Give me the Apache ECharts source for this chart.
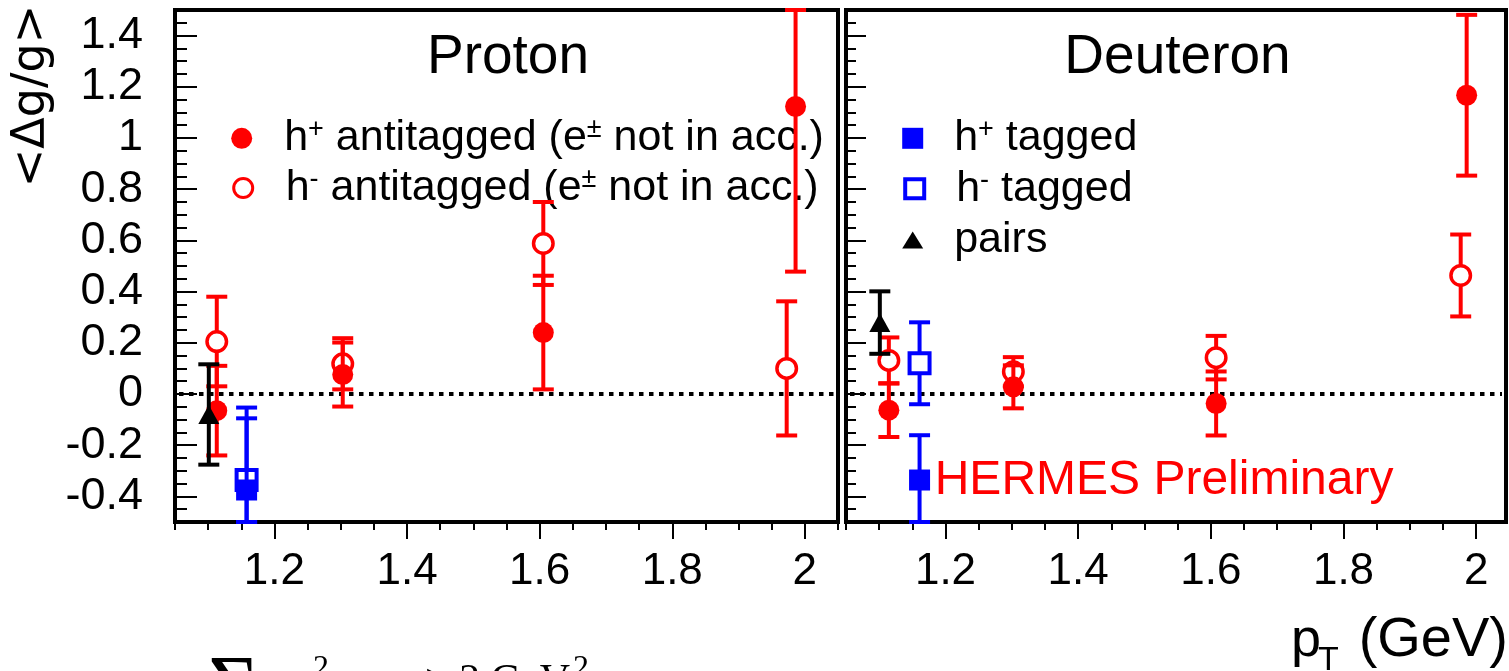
<!DOCTYPE html>
<html>
<head>
<meta charset="utf-8">
<script src="https://cdn.jsdelivr.net/npm/echarts@6/dist/echarts.min.js"></script>
<style>
html, body { margin: 0; padding: 0; background: #fff; }
#chart { width: 1509px; height: 671px; }
</style>
</head>
<body>
<div id="chart"></div>
<script>
// ---- axis ranges and tick labels ----
const xRangeP = [1.05, 2.05];
const xRangeD = [1.05, 2.045];
const yRange = [-0.5, 1.5];
const xTickLabels = [1.2, 1.4, 1.6, 1.8, 2];
const yTickLabels = [-0.4, -0.2, 0, 0.2, 0.4, 0.6, 0.8, 1, 1.2, 1.4];

// ---- Proton: <Δg/g> vs p_T ----
const pHPlusAntiX = [1.113, 1.303, 1.6055, 1.986];
const pHPlusAntiY = [-0.065, 0.076, 0.240, 1.123];
const pHPlusAntiErr = [0.175, 0.125, 0.222, 0.645];

const pHMinusAntiX = [1.113, 1.303, 1.6055, 1.9726];
const pHMinusAntiY = [0.205, 0.118, 0.588, 0.100];
const pHMinusAntiErr = [0.175, 0.100, 0.162, 0.262];

const pHPlusTagX = [1.158];
const pHPlusTagY = [-0.375];
const pHPlusTagErr = [0.280];

const pHMinusTagX = [1.158];
const pHMinusTagY = [-0.336];
const pHMinusTagErr = [0.283];

const pPairsX = [1.101];
const pPairsY = [-0.080];
const pPairsErr = [0.196];

// ---- Deuteron: <Δg/g> vs p_T ----
const dHPlusAntiX = [1.1146, 1.3023, 1.608, 1.9857];
const dHPlusAntiY = [-0.063, 0.028, -0.037, 1.167];
const dHPlusAntiErr = [0.105, 0.084, 0.125, 0.314];

const dHMinusAntiX = [1.1146, 1.3023, 1.608, 1.9767];
const dHMinusAntiY = [0.131, 0.087, 0.142, 0.463];
const dHMinusAntiErr = [0.090, 0.057, 0.085, 0.160];

const dHPlusTagX = [1.1609];
const dHPlusTagY = [-0.336];
const dHPlusTagErr = [0.175];

const dHMinusTagX = [1.1609];
const dHMinusTagY = [0.120];
const dHMinusTagErr = [0.160];

const dPairsX = [1.101];
const dPairsY = [0.279];
const dPairsErr = [0.122];

// ---- helpers ----
const RED = '#ff0000', BLUE = '#0000ff', BLACK = '#000000';
const SANS = 'Liberation Sans';
const fmt = v => String(parseFloat(Number(v).toFixed(2)));

function stepValues(lo, hi, step) {
  const out = [];
  for (let k = 0; lo + k * step <= hi + 1e-9; k++) out.push(Math.round((lo + k * step) * 1000) / 1000);
  return out;
}

function xAxesFor(grid, range, withLabels) {
  const minor = stepValues(1.05, range[1], 0.05);
  return [
    {
      type: 'value', gridIndex: grid, min: range[0], max: range[1], position: 'bottom',
      axisLine: { show: false, onZero: false }, splitLine: { show: false },
      axisTick: { show: true, inside: false, length: 17, customValues: xTickLabels,
                  lineStyle: { color: BLACK, width: 2 } },
      axisLabel: { show: withLabels, customValues: xTickLabels, margin: 28, fontSize: 44,
                   fontFamily: SANS, color: BLACK, formatter: fmt }
    },
    {
      type: 'value', gridIndex: grid, min: range[0], max: range[1], position: 'bottom',
      axisLine: { show: false, onZero: false }, splitLine: { show: false },
      axisTick: { show: true, inside: false, length: 8, customValues: minor,
                  lineStyle: { color: BLACK, width: 2 } },
      axisLabel: { show: false }
    }
  ];
}

function yAxesFor(grid, withLabels, majorLen, minorLen) {
  const minor = stepValues(yRange[0], yRange[1], 0.05);
  return [
    {
      type: 'value', gridIndex: grid, min: yRange[0], max: yRange[1], position: 'left',
      axisLine: { show: false, onZero: false }, splitLine: { show: false },
      axisTick: { show: true, inside: true, length: majorLen, customValues: yTickLabels,
                  lineStyle: { color: BLACK, width: 2 } },
      axisLabel: { show: withLabels, customValues: yTickLabels, margin: 32, fontSize: 45,
                   fontFamily: SANS, color: BLACK, formatter: fmt }
    },
    {
      type: 'value', gridIndex: grid, min: yRange[0], max: yRange[1], position: 'left',
      axisLine: { show: false, onZero: false }, splitLine: { show: false },
      axisTick: { show: true, inside: true, length: minorLen, customValues: minor,
                  lineStyle: { color: BLACK, width: 2 } },
      axisLabel: { show: false }
    }
  ];
}

// vertical error bars with end caps, clipped to the y range
function errorBars(name, grid, xs, ys, errs, color, z) {
  return {
    type: 'custom', name: name + ' errors', xAxisIndex: grid * 2, yAxisIndex: grid * 2,
    z: z, silent: true, clip: false,
    encode: { x: 0, y: 1 },
    data: xs.map((x, i) => [x, ys[i], errs[i]]),
    renderItem(params, api) {
      const x = api.value(0), y = api.value(1), e = api.value(2);
      const hi = Math.min(y + e, yRange[1]);
      const lo = Math.max(y - e, yRange[0]);
      const top = api.coord([x, hi]);
      const bot = api.coord([x, lo]);
      const w = 10.5;
      const st = { stroke: color, lineWidth: 4 };
      return {
        type: 'group',
        children: [
          { type: 'line', shape: { x1: top[0], y1: top[1], x2: bot[0], y2: bot[1] }, style: st },
          { type: 'line', shape: { x1: top[0] - w, y1: top[1], x2: top[0] + w, y2: top[1] }, style: st },
          { type: 'line', shape: { x1: bot[0] - w, y1: bot[1], x2: bot[0] + w, y2: bot[1] }, style: st }
        ]
      };
    }
  };
}

function markers(name, grid, xs, ys, symbol, size, itemStyle, z) {
  return {
    type: 'scatter', name: name, xAxisIndex: grid * 2, yAxisIndex: grid * 2, z: z,
    symbol: symbol, symbolSize: size, itemStyle: itemStyle, silent: true, clip: false,
    emphasis: { disabled: true },
    data: xs.map((x, i) => [x, ys[i]])
  };
}

// dotted zero reference line across a panel
function zeroLine(grid) {
  return {
    type: 'custom', name: 'zero', xAxisIndex: grid * 2, yAxisIndex: grid * 2, z: 2, silent: true,
    encode: { x: 0, y: 1 },
    data: [[1.5, 0]],
    renderItem(params, api) {
      const cs = params.coordSys;
      const y = api.coord([api.value(0), api.value(1)])[1];
      return { type: 'line', shape: { x1: cs.x + 4, y1: y, x2: cs.x + cs.width - 4, y2: y },
               style: { stroke: BLACK, lineWidth: 4, lineDash: [4.5, 5.5] } };
    }
  };
}

const styles = {
  openCircle: { color: '#ffffff', borderColor: RED, borderWidth: 3.5, opacity: 1 },
  fullCircle: { color: RED, opacity: 1 },
  openSquare: { color: '#ffffff', borderColor: BLUE, borderWidth: 4, opacity: 1 },
  fullSquare: { color: BLUE, opacity: 1 },
  triangle: { color: BLACK, opacity: 1 }
};

function panelSeries(grid, d) {
  return [
    zeroLine(grid),
    errorBars('h- antitagged', grid, d.hmX, d.hmY, d.hmE, RED, 3),
    markers('h- antitagged', grid, d.hmX, d.hmY, 'circle', 19.5, styles.openCircle, 4),
    errorBars('h+ antitagged', grid, d.hpX, d.hpY, d.hpE, RED, 5),
    markers('h+ antitagged', grid, d.hpX, d.hpY, 'circle', 21, styles.fullCircle, 6),
    errorBars('h- tagged', grid, d.tmX, d.tmY, d.tmE, BLUE, 7),
    markers('h- tagged', grid, d.tmX, d.tmY, 'rect', 20, styles.openSquare, 8),
    errorBars('h+ tagged', grid, d.tpX, d.tpY, d.tpE, BLUE, 9),
    markers('h+ tagged', grid, d.tpX, d.tpY, 'rect', 21, styles.fullSquare, 10),
    errorBars('pairs', grid, d.prX, d.prY, d.prE, BLACK, 11),
    markers('pairs', grid, d.prX, d.prY, 'triangle', [21, 19], styles.triangle, 12)
  ];
}

const proton = {
  hpX: pHPlusAntiX, hpY: pHPlusAntiY, hpE: pHPlusAntiErr,
  hmX: pHMinusAntiX, hmY: pHMinusAntiY, hmE: pHMinusAntiErr,
  tpX: pHPlusTagX, tpY: pHPlusTagY, tpE: pHPlusTagErr,
  tmX: pHMinusTagX, tmY: pHMinusTagY, tmE: pHMinusTagErr,
  prX: pPairsX, prY: pPairsY, prE: pPairsErr
};
const deuteron = {
  hpX: dHPlusAntiX, hpY: dHPlusAntiY, hpE: dHPlusAntiErr,
  hmX: dHMinusAntiX, hmY: dHMinusAntiY, hmE: dHMinusAntiErr,
  tpX: dHPlusTagX, tpY: dHPlusTagY, tpE: dHPlusTagErr,
  tmX: dHMinusTagX, tmY: dHMinusTagY, tmE: dHMinusTagErr,
  prX: dPairsX, prY: dPairsY, prE: dPairsErr
};

// ---- legends: one entry per legend block so each row sits where it belongs ----
const legendText = {
  'h+ antitagged': '{g| }{n|h}{s|+}{n| antitagged (e}{s|±}{n| not in acc.)}',
  'h- antitagged': '{g| }{n|h}{s|-}{n| antitagged (e}{s|±}{n| not in acc.)}',
  'h+ tagged': '{g| }{n|h}{s|+}{n| tagged}',
  'h- tagged': '{g| }{n|h}{s|-}{n| tagged}',
  'pairs': '{g| }{n|pairs}'
};
function legendRow(name, cx, cy, w, h, gap, itemStyle, icon) {
  return {
    data: [{ name: name, icon: icon }], left: cx - w / 2, top: cy - 22, padding: 0, z: 1,
    itemWidth: w, itemHeight: h, selectedMode: false, itemStyle: itemStyle,
    formatter: n => legendText[n],
    textStyle: {
      color: BLACK, fontFamily: SANS, fontSize: 43, lineHeight: 44,
      rich: {
        g: { width: gap, fontSize: 10, lineHeight: 44 },
        n: { fontSize: 43, lineHeight: 44, fontFamily: SANS, color: BLACK, verticalAlign: 'middle' },
        s: { fontSize: 27, lineHeight: 24, fontFamily: SANS, color: BLACK, verticalAlign: 'top' }
      }
    }
  };
}

// text placed by baseline (middle-aligned glyph box offset)
function label(text, x, baseline, size, family, color, align, extra) {
  const k = family.indexOf('Serif') >= 0 ? 0.3375 : 0.3465;
  return Object.assign({
    type: 'text', x: x, y: baseline - k * size, silent: true,
    style: { text: text, font: size + 'px "' + family + '"', fill: color,
             align: align || 'left', verticalAlign: 'middle' }
  }, extra || {});
}

const option = {
  backgroundColor: '#ffffff',
  animation: false,
  grid: [
    { left: 175, top: 10, width: 663, height: 512, show: true, borderColor: BLACK, borderWidth: 4,
      backgroundColor: 'transparent', containLabel: false },
    { left: 846, top: 10, width: 660, height: 512, show: true, borderColor: BLACK, borderWidth: 4,
      backgroundColor: 'transparent', containLabel: false }
  ],
  xAxis: [].concat(xAxesFor(0, xRangeP, true), xAxesFor(1, xRangeD, true)),
  yAxis: [].concat(yAxesFor(0, true, 22, 12), yAxesFor(1, false, 20, 10)),
  legend: [
    legendRow('h+ antitagged', 241.7, 138.3, 21, 21, 27, styles.fullCircle, 'circle'),
    legendRow('h- antitagged', 241.7, 188, 19, 19, 28, { color: '#ffffff', borderColor: RED, borderWidth: 3, opacity: 1 }, 'circle'),
    legendRow('h+ tagged', 912.7, 138.3, 21, 21, 26, styles.fullSquare, 'rect'),
    legendRow('h- tagged', 912.7, 188.8, 19, 19, 27, { color: '#ffffff', borderColor: BLUE, borderWidth: 4, opacity: 1 }, 'rect'),
    legendRow('pairs', 912.7, 240, 21, 17, 26, styles.triangle, 'triangle')
  ],
  graphic: [
    label('Proton', 508, 77, 55, SANS, BLACK, 'center'),
    label('Deuteron', 1177.5, 77, 55, SANS, BLACK, 'center'),
    label('HERMES Preliminary', 934.7, 497, 48, SANS, RED, 'left'),
    // y-axis title, reading upwards
    {
      type: 'text', x: 32, y: 96, rotation: Math.PI / 2, silent: true,
      style: { text: '<Δg/g>', font: '46px "DejaVu Sans"', fill: BLACK, align: 'center', verticalAlign: 'middle' }
    },
    // x-axis title p_T (GeV)
    label('p', 1291, 660, 54, SANS, BLACK, 'left'),
    label('T', 1318, 672, 34, SANS, BLACK, 'left'),
    label('(GeV)', 1508, 660, 56, SANS, BLACK, 'right'),
    // kinematic cut written under the proton panel
    label('Σ', 208, 723, 88, 'Liberation Serif', BLACK, 'left'),
    label('p', 277, 706, 48, 'Liberation Serif', BLACK, 'left'),
    label('T', 300, 718, 32, 'Liberation Serif', BLACK, 'left'),
    label('2', 313, 679, 32, 'Liberation Serif', BLACK, 'left'),
    label('> 2 GeV', 425, 696, 42, 'Liberation Serif', BLACK, 'left'),
    label('2', 573, 679, 32, 'Liberation Serif', BLACK, 'left')
  ],
  series: [].concat(panelSeries(0, proton), panelSeries(1, deuteron))
};

const chart = echarts.init(document.getElementById('chart'), null, { renderer: 'canvas' });
chart.setOption(option);
</script>
</body>
</html>
